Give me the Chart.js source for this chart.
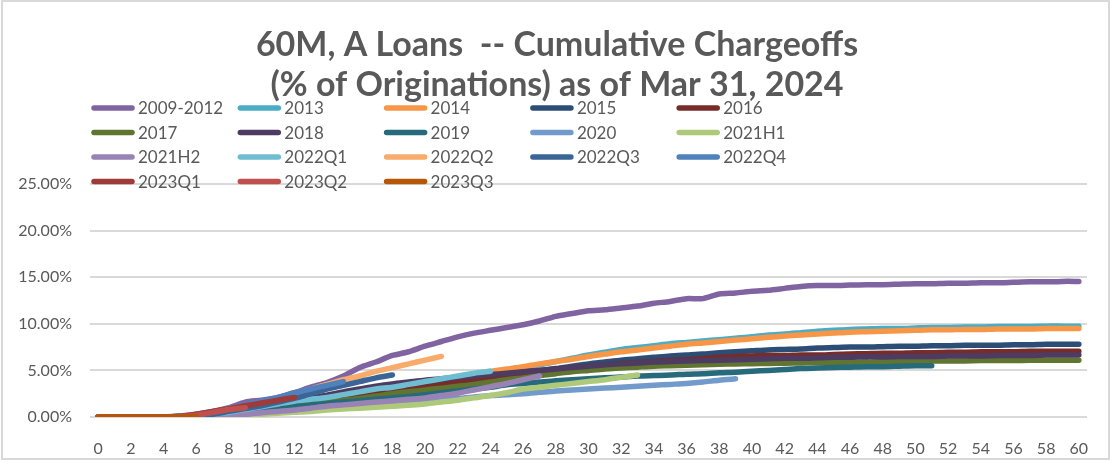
<!DOCTYPE html>
<html>
<head>
<meta charset="utf-8">
<script src="https://cdn.jsdelivr.net/npm/chart.js@4.4.1/dist/chart.umd.min.js"></script>
<style>
  html, body { margin: 0; padding: 0; background: #fff; }
  #wrap { width: 1114px; height: 464px; }
</style>
</head>
<body>
<div id="wrap"><canvas id="chart" width="1114" height="464"></canvas></div>
<script>
// 60M A loans, cumulative chargeoffs (% of originations) by months on book

const months = Array.from({ length: 61 }, (_, i) => String(i));

const titleLines = ['60M, A Loans  -- Cumulative Chargeoffs', '(% of Originations) as of Mar 31, 2024'];

const seriesNames = ['2009-2012', '2013', '2014', '2015', '2016', '2017', '2018', '2019', '2020',
  '2021H1', '2021H2', '2022Q1', '2022Q2', '2022Q3', '2022Q4', '2023Q1', '2023Q2', '2023Q3'];

const seriesColors = ['#8064A2', '#4BACC6', '#F79646', '#2C4D75', '#772C2A', '#5F7530', '#4D3B62', '#276A7C', '#729ACA',
  '#AFC97A', '#9983B5', '#6FBDD1', '#F9AB6B', '#3A6596', '#4F81BD', '#9E3A38', '#C0504D', '#B65708'];

const v2009_2012 = [0, 0, 0, 0, 0, 0.1, 0.3, 0.6, 1.0, 1.6, 1.8, 2.1, 2.6, 3.2, 3.7, 4.4, 5.3, 5.9, 6.6, 7.0,
  7.6, 8.1, 8.6, 9.0, 9.3, 9.6, 9.9, 10.3, 10.8, 11.1, 11.4, 11.5, 11.7, 11.9, 12.2, 12.4, 12.7, 12.7, 13.2, 13.3,
  13.5, 13.6, 13.8, 14.0, 14.1, 14.1, 14.15, 14.2, 14.2, 14.25, 14.3, 14.3, 14.35, 14.35, 14.4, 14.4, 14.45, 14.5, 14.5, 14.55, 14.55];
const v2013 = [0, 0, 0, 0, 0, 0.05, 0.15, 0.3, 0.5, 0.7, 0.95, 1.2, 1.45, 1.7, 2.0, 2.3, 2.6, 2.85, 3.1, 3.35,
  3.6, 3.85, 4.1, 4.4, 4.7, 5.0, 5.3, 5.6, 5.95, 6.3, 6.65, 6.95, 7.25, 7.45, 7.65, 7.85, 8.0, 8.15, 8.3, 8.45,
  8.6, 8.8, 8.9, 9.05, 9.2, 9.3, 9.4, 9.45, 9.5, 9.5, 9.55, 9.6, 9.6, 9.65, 9.65, 9.7, 9.7, 9.7, 9.75, 9.75, 9.75];
const v2014 = [0, 0, 0, 0, 0, 0.05, 0.2, 0.35, 0.55, 0.8, 1.05, 1.3, 1.55, 1.85, 2.15, 2.45, 2.75, 3.0, 3.3, 3.55,
  3.8, 4.05, 4.3, 4.6, 4.9, 5.15, 5.4, 5.7, 5.95, 6.2, 6.5, 6.75, 7.0, 7.2, 7.4, 7.6, 7.8, 7.95, 8.1, 8.25,
  8.4, 8.55, 8.7, 8.8, 8.9, 9.0, 9.1, 9.15, 9.2, 9.25, 9.3, 9.35, 9.35, 9.4, 9.4, 9.45, 9.45, 9.45, 9.5, 9.5, 9.5];
const v2015 = [0, 0, 0, 0, 0, 0.05, 0.15, 0.3, 0.5, 0.7, 0.9, 1.1, 1.35, 1.6, 1.85, 2.1, 2.35, 2.6, 2.85, 3.1,
  3.35, 3.6, 3.85, 4.1, 4.35, 4.6, 4.8, 5.0, 5.2, 5.45, 5.7, 5.9, 6.1, 6.25, 6.4, 6.55, 6.65, 6.75, 6.9, 7.0,
  7.1, 7.2, 7.25, 7.3, 7.4, 7.45, 7.5, 7.5, 7.55, 7.6, 7.6, 7.65, 7.65, 7.7, 7.7, 7.7, 7.75, 7.75, 7.8, 7.8, 7.8];
const v2016 = [0, 0, 0, 0, 0, 0.05, 0.15, 0.3, 0.45, 0.65, 0.85, 1.05, 1.3, 1.5, 1.75, 2.0, 2.25, 2.5, 2.75, 3.0,
  3.2, 3.45, 3.7, 3.9, 4.15, 4.35, 4.6, 4.8, 5.0, 5.2, 5.4, 5.6, 5.75, 5.85, 5.95, 6.05, 6.15, 6.25, 6.4, 6.5,
  6.55, 6.6, 6.6, 6.65, 6.65, 6.7, 6.75, 6.8, 6.85, 6.85, 6.9, 6.9, 6.95, 6.95, 7.0, 7.0, 7.0, 7.05, 7.05, 7.05, 7.05];
const v2017 = [0, 0, 0, 0, 0, 0.05, 0.1, 0.25, 0.4, 0.6, 0.8, 1.0, 1.2, 1.4, 1.6, 1.8, 2.0, 2.25, 2.5, 2.7,
  2.9, 3.1, 3.3, 3.5, 3.75, 4.0, 4.2, 4.45, 4.65, 4.85, 5.0, 5.15, 5.25, 5.35, 5.45, 5.5, 5.55, 5.6, 5.65, 5.7,
  5.72, 5.75, 5.78, 5.8, 5.82, 5.85, 5.87, 5.9, 5.92, 5.95, 5.97, 6.0, 6.0, 6.02, 6.05, 6.05, 6.07, 6.08, 6.1, 6.1, 6.1];
const v2018 = [0, 0, 0, 0, 0, 0.05, 0.2, 0.4, 0.65, 0.9, 1.15, 1.4, 1.7, 2.0, 2.35, 2.7, 3.0, 3.3, 3.55, 3.75,
  3.95, 4.1, 4.25, 4.4, 4.55, 4.7, 4.85, 5.0, 5.15, 5.3, 5.45, 5.6, 5.7, 5.8, 5.9, 5.95, 6.0, 6.05, 6.1, 6.15,
  6.2, 6.25, 6.3, 6.3, 6.35, 6.4, 6.4, 6.45, 6.45, 6.5, 6.5, 6.5, 6.55, 6.55, 6.55, 6.6, 6.6, 6.6, 6.65, 6.65, 6.65];
const v2019 = [0, 0, 0, 0, 0, 0.05, 0.15, 0.3, 0.45, 0.6, 0.8, 0.95, 1.1, 1.3, 1.45, 1.6, 1.75, 1.9, 2.05, 2.2,
  2.4, 2.6, 2.8, 3.0, 3.2, 3.45, 3.6, 3.75, 3.9, 4.0, 4.1, 4.2, 4.3, 4.4, 4.45, 4.5, 4.6, 4.65, 4.75, 4.8,
  4.9, 5.0, 5.1, 5.2, 5.25, 5.3, 5.35, 5.4, 5.4, 5.45, 5.5, 5.5];
const v2020 = [0, 0, 0, 0, 0, 0, 0.05, 0.1, 0.2, 0.3, 0.4, 0.5, 0.6, 0.75, 0.9, 1.05, 1.2, 1.35, 1.5, 1.65,
  1.8, 1.9, 2.0, 2.15, 2.3, 2.4, 2.5, 2.65, 2.8, 2.9, 3.0, 3.1, 3.2, 3.3, 3.4, 3.5, 3.6, 3.75, 3.95, 4.1];
const v2021H1 = [0, 0, 0, 0, 0, 0, 0, 0.05, 0.1, 0.2, 0.3, 0.4, 0.5, 0.6, 0.75, 0.85, 0.95, 1.05, 1.15, 1.25,
  1.4, 1.6, 1.8, 2.05, 2.3, 2.6, 3.0, 3.2, 3.4, 3.6, 3.8, 4.0, 4.25, 4.5];
const v2021H2 = [0, 0, 0, 0, 0, 0, 0.05, 0.1, 0.2, 0.3, 0.45, 0.6, 0.75, 0.95, 1.15, 1.3, 1.45, 1.6, 1.75, 1.9,
  2.05, 2.3, 2.55, 2.9, 3.25, 3.6, 4.0, 4.4];
const v2022Q1 = [0, 0, 0, 0, 0, 0.05, 0.15, 0.3, 0.5, 0.8, 1.1, 1.4, 1.7, 1.9, 2.1, 2.4, 2.7, 3.0, 3.2, 3.5,
  3.8, 4.1, 4.4, 4.7, 4.9];
const v2022Q2 = [0, 0, 0, 0, 0, 0.05, 0.2, 0.5, 0.9, 1.2, 1.6, 2.0, 2.5, 3.0, 3.5, 4.0, 4.4, 4.9, 5.3, 5.7, 6.1, 6.5];
const v2022Q3 = [0, 0, 0, 0, 0, 0.05, 0.1, 0.3, 0.6, 0.9, 1.2, 1.6, 2.0, 2.5, 3.0, 3.4, 3.8, 4.2, 4.5];
const v2022Q4 = [0, 0, 0, 0, 0, 0.05, 0.2, 0.5, 0.9, 1.3, 1.7, 2.1, 2.6, 3.0, 3.4, 3.8];
const v2023Q1 = [0, 0, 0, 0, 0, 0.05, 0.3, 0.6, 0.9, 1.2, 1.5, 1.8, 2.1];
const v2023Q2 = [0, 0, 0, 0, 0, 0.05, 0.2, 0.5, 0.8, 1.0];
const v2023Q3 = [0, 0, 0, 0, 0, 0, 0.05];

const seriesValues = [v2009_2012, v2013, v2014, v2015, v2016, v2017, v2018, v2019, v2020,
  v2021H1, v2021H2, v2022Q1, v2022Q2, v2022Q3, v2022Q4, v2023Q1, v2023Q2, v2023Q3];

const yTicks = [0, 5, 10, 15, 20, 25];

const FONT = 'Lato, "Open Sans", sans-serif';
const GREY = '#595959';

// title, excel-style legend grid (drawn over the plot like the original) and frame
const decorations = {
  id: 'decorations',
  afterDraw(chart) {
    const ctx = chart.ctx;
    ctx.save();
    ctx.fillStyle = GREY;
    ctx.textAlign = 'center';
    ctx.textBaseline = 'middle';
    ctx.font = 'bold 34px ' + FONT;
    titleLines.forEach((t, i) => ctx.fillText(t, 557, 45 + i * 40));

    ctx.textAlign = 'left';
    ctx.font = '17px ' + FONT;
    ctx.lineCap = 'round';
    chart.data.datasets.forEach((ds, i) => {
      const x0 = 92 + (i % 5) * 146.3;
      const y = 108 + Math.floor(i / 5) * 24.5;
      ctx.strokeStyle = ds.borderColor;
      ctx.lineWidth = 5.5;
      ctx.beginPath();
      ctx.moveTo(x0 + 2, y);
      ctx.lineTo(x0 + 40, y);
      ctx.stroke();
      ctx.fillStyle = GREY;
      ctx.fillText(ds.label, x0 + 46, y + 1);
    });

    ctx.strokeStyle = '#D9D9D9';
    ctx.lineWidth = 2;
    ctx.strokeRect(2, 1, 1107, 458);
    ctx.restore();
  }
};

new Chart(document.getElementById('chart'), {
  type: 'line',
  data: {
    labels: months,
    datasets: seriesNames.map((name, i) => ({
      label: name,
      data: seriesValues[i],
      borderColor: seriesColors[i],
      backgroundColor: seriesColors[i],
      borderWidth: 5.5,
      borderCapStyle: 'round',
      borderJoinStyle: 'round',
      pointRadius: 0,
      tension: 0.25,
      fill: false,
      order: seriesNames.length - i
    }))
  },
  options: {
    responsive: false,
    animation: false,
    layout: { padding: { top: 184, right: 27, bottom: 4, left: 0 } },
    plugins: {
      legend: { display: false },
      tooltip: { enabled: false },
      title: { display: false }
    },
    scales: {
      x: {
        offset: true,
        grid: { display: false },
        border: { display: false },
        ticks: {
          autoSkip: false,
          maxRotation: 0,
          padding: 14,
          color: GREY,
          font: { family: FONT, size: 16 },
          callback: (v, i) => (i % 2 === 0 ? months[i] : '')
        },
        afterFit: s => { s.height = 43; }
      },
      y: {
        min: 0,
        max: 25,
        afterBuildTicks: s => { s.ticks = yTicks.map(v => ({ value: v })); },
        grid: { color: '#D9D9D9', lineWidth: 2, drawTicks: false },
        border: { display: false },
        ticks: {
          padding: 18,
          color: GREY,
          font: { family: FONT, size: 16 },
          callback: v => v.toFixed(2) + '%'
        },
        afterFit: s => { s.width = 90; }
      }
    }
  },
  plugins: [decorations]
});
</script>
</body>
</html>
